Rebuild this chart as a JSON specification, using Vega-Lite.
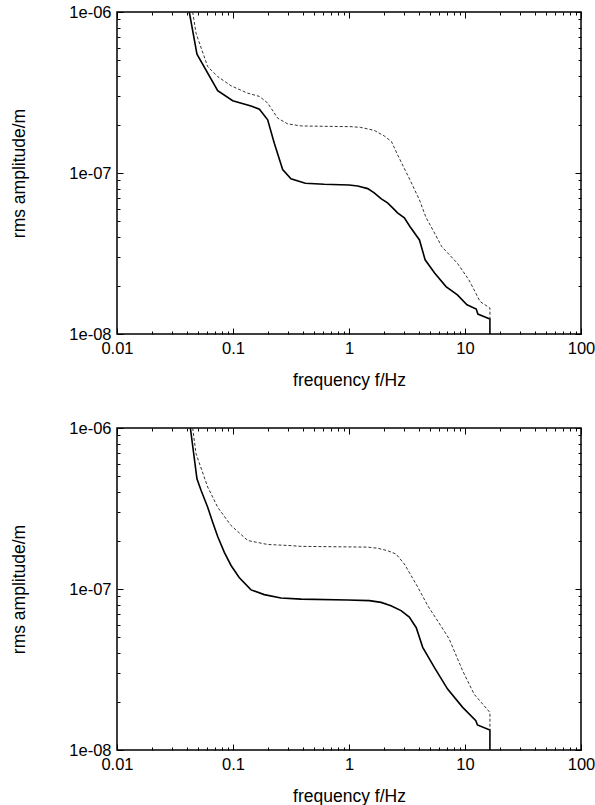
{
  "$schema": "https://vega.github.io/schema/vega-lite/v6.json",
  "background": "white",
  "autosize": {"type": "pad"},
  "padding": {"left": 9, "top": 3, "right": 10, "bottom": 5},
  "spacing": 94,
  "bounds": "flush",
  "datasets": {
    "curves": [
      {"panel": "top", "series": "solid", "i": 1, "f": 0.0420, "a": 1.0e-6},
      {"panel": "top", "series": "solid", "i": 2, "f": 0.0489, "a": 5.47e-7},
      {"panel": "top", "series": "solid", "i": 3, "f": 0.0738, "a": 3.25e-7},
      {"panel": "top", "series": "solid", "i": 4, "f": 0.0994, "a": 2.81e-7},
      {"panel": "top", "series": "solid", "i": 5, "f": 0.143, "a": 2.61e-7},
      {"panel": "top", "series": "solid", "i": 6, "f": 0.169, "a": 2.49e-7},
      {"panel": "top", "series": "solid", "i": 7, "f": 0.199, "a": 2.14e-7},
      {"panel": "top", "series": "solid", "i": 8, "f": 0.227, "a": 1.53e-7},
      {"panel": "top", "series": "solid", "i": 9, "f": 0.268, "a": 1.05e-7},
      {"panel": "top", "series": "solid", "i": 10, "f": 0.316, "a": 9.2e-8},
      {"panel": "top", "series": "solid", "i": 11, "f": 0.42, "a": 8.63e-8},
      {"panel": "top", "series": "solid", "i": 12, "f": 0.61, "a": 8.51e-8},
      {"panel": "top", "series": "solid", "i": 13, "f": 1.0, "a": 8.43e-8},
      {"panel": "top", "series": "solid", "i": 14, "f": 1.19, "a": 8.3e-8},
      {"panel": "top", "series": "solid", "i": 15, "f": 1.45, "a": 8.0e-8},
      {"panel": "top", "series": "solid", "i": 16, "f": 1.65, "a": 7.52e-8},
      {"panel": "top", "series": "solid", "i": 17, "f": 1.9, "a": 6.9e-8},
      {"panel": "top", "series": "solid", "i": 18, "f": 2.15, "a": 6.52e-8},
      {"panel": "top", "series": "solid", "i": 19, "f": 2.38, "a": 6.07e-8},
      {"panel": "top", "series": "solid", "i": 20, "f": 2.62, "a": 5.65e-8},
      {"panel": "top", "series": "solid", "i": 21, "f": 3.0, "a": 5.26e-8},
      {"panel": "top", "series": "solid", "i": 22, "f": 3.35, "a": 4.65e-8},
      {"panel": "top", "series": "solid", "i": 23, "f": 4.05, "a": 3.84e-8},
      {"panel": "top", "series": "solid", "i": 24, "f": 4.53, "a": 2.89e-8},
      {"panel": "top", "series": "solid", "i": 25, "f": 5.47, "a": 2.39e-8},
      {"panel": "top", "series": "solid", "i": 26, "f": 6.86, "a": 1.97e-8},
      {"panel": "top", "series": "solid", "i": 27, "f": 8.6, "a": 1.75e-8},
      {"panel": "top", "series": "solid", "i": 28, "f": 10.4, "a": 1.52e-8},
      {"panel": "top", "series": "solid", "i": 29, "f": 12.5, "a": 1.43e-8},
      {"panel": "top", "series": "solid", "i": 30, "f": 12.9, "a": 1.33e-8},
      {"panel": "top", "series": "solid", "i": 31, "f": 16.4, "a": 1.24e-8},
      {"panel": "top", "series": "solid", "i": 32, "f": 16.4, "a": 1.0e-8},
      {"panel": "top", "series": "dashed", "i": 1, "f": 0.0449, "a": 1.0e-6},
      {"panel": "top", "series": "dashed", "i": 2, "f": 0.048, "a": 7.38e-7},
      {"panel": "top", "series": "dashed", "i": 3, "f": 0.0605, "a": 4.58e-7},
      {"panel": "top", "series": "dashed", "i": 4, "f": 0.0738, "a": 3.97e-7},
      {"panel": "top", "series": "dashed", "i": 5, "f": 0.0962, "a": 3.48e-7},
      {"panel": "top", "series": "dashed", "i": 6, "f": 0.134, "a": 3.13e-7},
      {"panel": "top", "series": "dashed", "i": 7, "f": 0.169, "a": 2.99e-7},
      {"panel": "top", "series": "dashed", "i": 8, "f": 0.199, "a": 2.72e-7},
      {"panel": "top", "series": "dashed", "i": 9, "f": 0.243, "a": 2.19e-7},
      {"panel": "top", "series": "dashed", "i": 10, "f": 0.296, "a": 2.02e-7},
      {"panel": "top", "series": "dashed", "i": 11, "f": 0.386, "a": 1.96e-7},
      {"panel": "top", "series": "dashed", "i": 12, "f": 0.6, "a": 1.95e-7},
      {"panel": "top", "series": "dashed", "i": 13, "f": 1.04, "a": 1.94e-7},
      {"panel": "top", "series": "dashed", "i": 14, "f": 1.26, "a": 1.92e-7},
      {"panel": "top", "series": "dashed", "i": 15, "f": 1.65, "a": 1.84e-7},
      {"panel": "top", "series": "dashed", "i": 16, "f": 2.01, "a": 1.70e-7},
      {"panel": "top", "series": "dashed", "i": 17, "f": 2.32, "a": 1.57e-7},
      {"panel": "top", "series": "dashed", "i": 18, "f": 2.62, "a": 1.3e-7},
      {"panel": "top", "series": "dashed", "i": 19, "f": 3.42, "a": 8.8e-8},
      {"panel": "top", "series": "dashed", "i": 20, "f": 4.05, "a": 6.8e-8},
      {"panel": "top", "series": "dashed", "i": 21, "f": 4.61, "a": 5.3e-8},
      {"panel": "top", "series": "dashed", "i": 22, "f": 5.47, "a": 4.23e-8},
      {"panel": "top", "series": "dashed", "i": 23, "f": 6.3, "a": 3.49e-8},
      {"panel": "top", "series": "dashed", "i": 24, "f": 8.6, "a": 2.75e-8},
      {"panel": "top", "series": "dashed", "i": 25, "f": 10.8, "a": 2.17e-8},
      {"panel": "top", "series": "dashed", "i": 26, "f": 13.5, "a": 1.59e-8},
      {"panel": "top", "series": "dashed", "i": 27, "f": 16.4, "a": 1.45e-8},
      {"panel": "top", "series": "dashed", "i": 28, "f": 16.4, "a": 1.24e-8},
      {"panel": "bottom", "series": "solid", "i": 1, "f": 0.0429, "a": 1.0e-6},
      {"panel": "bottom", "series": "solid", "i": 2, "f": 0.0489, "a": 4.84e-7},
      {"panel": "bottom", "series": "solid", "i": 3, "f": 0.053, "a": 4.10e-7},
      {"panel": "bottom", "series": "solid", "i": 4, "f": 0.0605, "a": 3.22e-7},
      {"panel": "bottom", "series": "solid", "i": 5, "f": 0.0668, "a": 2.60e-7},
      {"panel": "bottom", "series": "solid", "i": 6, "f": 0.0738, "a": 2.12e-7},
      {"panel": "bottom", "series": "solid", "i": 7, "f": 0.0842, "a": 1.69e-7},
      {"panel": "bottom", "series": "solid", "i": 8, "f": 0.0962, "a": 1.40e-7},
      {"panel": "bottom", "series": "solid", "i": 9, "f": 0.113, "a": 1.18e-7},
      {"panel": "bottom", "series": "solid", "i": 10, "f": 0.143, "a": 9.87e-8},
      {"panel": "bottom", "series": "solid", "i": 11, "f": 0.186, "a": 9.23e-8},
      {"panel": "bottom", "series": "solid", "i": 12, "f": 0.259, "a": 8.8e-8},
      {"panel": "bottom", "series": "solid", "i": 13, "f": 0.386, "a": 8.65e-8},
      {"panel": "bottom", "series": "solid", "i": 14, "f": 0.975, "a": 8.55e-8},
      {"panel": "bottom", "series": "solid", "i": 15, "f": 1.5, "a": 8.47e-8},
      {"panel": "bottom", "series": "solid", "i": 16, "f": 1.89, "a": 8.26e-8},
      {"panel": "bottom", "series": "solid", "i": 17, "f": 2.3, "a": 7.88e-8},
      {"panel": "bottom", "series": "solid", "i": 18, "f": 2.81, "a": 7.34e-8},
      {"panel": "bottom", "series": "solid", "i": 19, "f": 3.31, "a": 6.7e-8},
      {"panel": "bottom", "series": "solid", "i": 20, "f": 3.8, "a": 5.75e-8},
      {"panel": "bottom", "series": "solid", "i": 21, "f": 4.32, "a": 4.34e-8},
      {"panel": "bottom", "series": "solid", "i": 22, "f": 5.44, "a": 3.26e-8},
      {"panel": "bottom", "series": "solid", "i": 23, "f": 7.08, "a": 2.39e-8},
      {"panel": "bottom", "series": "solid", "i": 24, "f": 9.55, "a": 1.84e-8},
      {"panel": "bottom", "series": "solid", "i": 25, "f": 12.4, "a": 1.52e-8},
      {"panel": "bottom", "series": "solid", "i": 26, "f": 12.8, "a": 1.43e-8},
      {"panel": "bottom", "series": "solid", "i": 27, "f": 16.4, "a": 1.33e-8},
      {"panel": "bottom", "series": "solid", "i": 28, "f": 16.4, "a": 1.0e-8},
      {"panel": "bottom", "series": "dashed", "i": 1, "f": 0.0449, "a": 1.0e-6},
      {"panel": "bottom", "series": "dashed", "i": 2, "f": 0.048, "a": 6.93e-7},
      {"panel": "bottom", "series": "dashed", "i": 3, "f": 0.0605, "a": 4.30e-7},
      {"panel": "bottom", "series": "dashed", "i": 4, "f": 0.0738, "a": 3.22e-7},
      {"panel": "bottom", "series": "dashed", "i": 5, "f": 0.0962, "a": 2.48e-7},
      {"panel": "bottom", "series": "dashed", "i": 6, "f": 0.134, "a": 2.0e-7},
      {"panel": "bottom", "series": "dashed", "i": 7, "f": 0.199, "a": 1.89e-7},
      {"panel": "bottom", "series": "dashed", "i": 8, "f": 0.316, "a": 1.86e-7},
      {"panel": "bottom", "series": "dashed", "i": 9, "f": 0.386, "a": 1.84e-7},
      {"panel": "bottom", "series": "dashed", "i": 10, "f": 1.45, "a": 1.82e-7},
      {"panel": "bottom", "series": "dashed", "i": 11, "f": 1.77, "a": 1.79e-7},
      {"panel": "bottom", "series": "dashed", "i": 12, "f": 2.15, "a": 1.73e-7},
      {"panel": "bottom", "series": "dashed", "i": 13, "f": 2.54, "a": 1.65e-7},
      {"panel": "bottom", "series": "dashed", "i": 14, "f": 3.0, "a": 1.43e-7},
      {"panel": "bottom", "series": "dashed", "i": 15, "f": 3.91, "a": 1.03e-7},
      {"panel": "bottom", "series": "dashed", "i": 16, "f": 4.76, "a": 7.9e-8},
      {"panel": "bottom", "series": "dashed", "i": 17, "f": 6.2, "a": 5.9e-8},
      {"panel": "bottom", "series": "dashed", "i": 18, "f": 7.31, "a": 4.89e-8},
      {"panel": "bottom", "series": "dashed", "i": 19, "f": 9.55, "a": 3.1e-8},
      {"panel": "bottom", "series": "dashed", "i": 20, "f": 12.0, "a": 2.22e-8},
      {"panel": "bottom", "series": "dashed", "i": 21, "f": 16.4, "a": 1.71e-8},
      {"panel": "bottom", "series": "dashed", "i": 22, "f": 16.4, "a": 1.33e-8}
    ]
  },
  "vconcat": [
    {
      "width": 464,
      "height": 322,
      "data": {"name": "curves"},
      "transform": [{"filter": "datum.panel === 'top'"}],
      "layer": [
        {
          "transform": [{"filter": "datum.series === 'solid'"}],
          "mark": {"type": "line", "color": "black", "strokeWidth": 1.6, "clip": true},
          "encoding": {
            "x": {"field": "f", "type": "quantitative", "scale": {"type": "log", "domain": [0.01, 100], "nice": false},
              "axis": {"orient": "bottom", "values": [0.01, 0.1, 1, 10, 100], "labelExpr": "format(datum.value, '~g')", "tickSize": -6, "labelPadding": 12.5, "labelFlush": false, "labelOverlap": false, "labelBound": false, "title": "frequency f/Hz", "titleX": 232, "titleY": 51, "titleBaseline": "alphabetic", "titleAlign": "center"}},
            "y": {"field": "a", "type": "quantitative", "scale": {"type": "log", "domain": [1e-8, 1e-6], "nice": false},
              "axis": {"orient": "left", "values": [1e-8, 1e-7, 1e-6], "labelExpr": "'1e-0' + round(-log(datum.value) / LN10)", "tickSize": -6, "labelPadding": 12, "labelFlush": false, "labelOverlap": false, "labelBound": false, "title": "rms amplitude/m", "titleX": -93, "titleY": 161, "titleAngle": -90, "titleBaseline": "alphabetic", "titleAlign": "center"}},
            "order": {"field": "i", "type": "quantitative"}
          }
        },
        {
          "transform": [{"filter": "datum.series === 'dashed'"}],
          "mark": {"type": "line", "color": "#333333", "strokeWidth": 1, "strokeDash": [3, 2], "clip": true},
          "encoding": {
            "x": {"field": "f", "type": "quantitative", "scale": {"type": "log", "domain": [0.01, 100], "nice": false},
              "axis": {"orient": "top", "values": [0.01, 0.1, 1, 10, 100], "labels": false, "tickSize": -6, "title": null}},
            "y": {"field": "a", "type": "quantitative", "scale": {"type": "log", "domain": [1e-8, 1e-6], "nice": false},
              "axis": {"orient": "right", "values": [1e-8, 1e-7, 1e-6], "labels": false, "tickSize": -6, "title": null}},
            "order": {"field": "i", "type": "quantitative"}
          }
        },
        {
          "transform": [{"filter": "datum.series === 'solid'"}],
          "mark": {"type": "line", "strokeOpacity": 0, "clip": true},
          "encoding": {
            "x": {"field": "f", "type": "quantitative", "scale": {"type": "log", "domain": [0.01, 100], "nice": false},
              "axis": {"orient": "bottom", "values": [0.02, 0.03, 0.04, 0.05, 0.06, 0.07, 0.08, 0.09, 0.2, 0.3, 0.4, 0.5, 0.6, 0.7, 0.8, 0.9, 2, 3, 4, 5, 6, 7, 8, 9, 20, 30, 40, 50, 60, 70, 80, 90], "labels": false, "tickSize": -3, "title": null}},
            "y": {"field": "a", "type": "quantitative", "scale": {"type": "log", "domain": [1e-8, 1e-6], "nice": false},
              "axis": {"orient": "left", "values": [2e-8, 3e-8, 4e-8, 5e-8, 6e-8, 7e-8, 8e-8, 9e-8, 2e-7, 3e-7, 4e-7, 5e-7, 6e-7, 7e-7, 8e-7, 9e-7], "labels": false, "tickSize": -3, "title": null}},
            "order": {"field": "i", "type": "quantitative"}
          }
        },
        {
          "transform": [{"filter": "datum.series === 'solid'"}],
          "mark": {"type": "line", "strokeOpacity": 0, "clip": true},
          "encoding": {
            "x": {"field": "f", "type": "quantitative", "scale": {"type": "log", "domain": [0.01, 100], "nice": false},
              "axis": {"orient": "top", "values": [0.02, 0.03, 0.04, 0.05, 0.06, 0.07, 0.08, 0.09, 0.2, 0.3, 0.4, 0.5, 0.6, 0.7, 0.8, 0.9, 2, 3, 4, 5, 6, 7, 8, 9, 20, 30, 40, 50, 60, 70, 80, 90], "labels": false, "tickSize": -3, "title": null}},
            "y": {"field": "a", "type": "quantitative", "scale": {"type": "log", "domain": [1e-8, 1e-6], "nice": false},
              "axis": {"orient": "right", "values": [2e-8, 3e-8, 4e-8, 5e-8, 6e-8, 7e-8, 8e-8, 9e-8, 2e-7, 3e-7, 4e-7, 5e-7, 6e-7, 7e-7, 8e-7, 9e-7], "labels": false, "tickSize": -3, "title": null}},
            "order": {"field": "i", "type": "quantitative"}
          }
        }
      ],
      "resolve": {"axis": {"x": "independent", "y": "independent"}}
    },
    {
      "width": 464,
      "height": 322,
      "data": {"name": "curves"},
      "transform": [{"filter": "datum.panel === 'bottom'"}],
      "layer": [
        {
          "transform": [{"filter": "datum.series === 'solid'"}],
          "mark": {"type": "line", "color": "black", "strokeWidth": 1.6, "clip": true},
          "encoding": {
            "x": {"field": "f", "type": "quantitative", "scale": {"type": "log", "domain": [0.01, 100], "nice": false},
              "axis": {"orient": "bottom", "values": [0.01, 0.1, 1, 10, 100], "labelExpr": "format(datum.value, '~g')", "tickSize": -6, "labelPadding": 12.5, "labelFlush": false, "labelOverlap": false, "labelBound": false, "title": "frequency f/Hz", "titleX": 232, "titleY": 51, "titleBaseline": "alphabetic", "titleAlign": "center"}},
            "y": {"field": "a", "type": "quantitative", "scale": {"type": "log", "domain": [1e-8, 1e-6], "nice": false},
              "axis": {"orient": "left", "values": [1e-8, 1e-7, 1e-6], "labelExpr": "'1e-0' + round(-log(datum.value) / LN10)", "tickSize": -6, "labelPadding": 12, "labelFlush": false, "labelOverlap": false, "labelBound": false, "title": "rms amplitude/m", "titleX": -93, "titleY": 161, "titleAngle": -90, "titleBaseline": "alphabetic", "titleAlign": "center"}},
            "order": {"field": "i", "type": "quantitative"}
          }
        },
        {
          "transform": [{"filter": "datum.series === 'dashed'"}],
          "mark": {"type": "line", "color": "#333333", "strokeWidth": 1, "strokeDash": [3, 2], "clip": true},
          "encoding": {
            "x": {"field": "f", "type": "quantitative", "scale": {"type": "log", "domain": [0.01, 100], "nice": false},
              "axis": {"orient": "top", "values": [0.01, 0.1, 1, 10, 100], "labels": false, "tickSize": -6, "title": null}},
            "y": {"field": "a", "type": "quantitative", "scale": {"type": "log", "domain": [1e-8, 1e-6], "nice": false},
              "axis": {"orient": "right", "values": [1e-8, 1e-7, 1e-6], "labels": false, "tickSize": -6, "title": null}},
            "order": {"field": "i", "type": "quantitative"}
          }
        },
        {
          "transform": [{"filter": "datum.series === 'solid'"}],
          "mark": {"type": "line", "strokeOpacity": 0, "clip": true},
          "encoding": {
            "x": {"field": "f", "type": "quantitative", "scale": {"type": "log", "domain": [0.01, 100], "nice": false},
              "axis": {"orient": "bottom", "values": [0.02, 0.03, 0.04, 0.05, 0.06, 0.07, 0.08, 0.09, 0.2, 0.3, 0.4, 0.5, 0.6, 0.7, 0.8, 0.9, 2, 3, 4, 5, 6, 7, 8, 9, 20, 30, 40, 50, 60, 70, 80, 90], "labels": false, "tickSize": -3, "title": null}},
            "y": {"field": "a", "type": "quantitative", "scale": {"type": "log", "domain": [1e-8, 1e-6], "nice": false},
              "axis": {"orient": "left", "values": [2e-8, 3e-8, 4e-8, 5e-8, 6e-8, 7e-8, 8e-8, 9e-8, 2e-7, 3e-7, 4e-7, 5e-7, 6e-7, 7e-7, 8e-7, 9e-7], "labels": false, "tickSize": -3, "title": null}},
            "order": {"field": "i", "type": "quantitative"}
          }
        },
        {
          "transform": [{"filter": "datum.series === 'solid'"}],
          "mark": {"type": "line", "strokeOpacity": 0, "clip": true},
          "encoding": {
            "x": {"field": "f", "type": "quantitative", "scale": {"type": "log", "domain": [0.01, 100], "nice": false},
              "axis": {"orient": "top", "values": [0.02, 0.03, 0.04, 0.05, 0.06, 0.07, 0.08, 0.09, 0.2, 0.3, 0.4, 0.5, 0.6, 0.7, 0.8, 0.9, 2, 3, 4, 5, 6, 7, 8, 9, 20, 30, 40, 50, 60, 70, 80, 90], "labels": false, "tickSize": -3, "title": null}},
            "y": {"field": "a", "type": "quantitative", "scale": {"type": "log", "domain": [1e-8, 1e-6], "nice": false},
              "axis": {"orient": "right", "values": [2e-8, 3e-8, 4e-8, 5e-8, 6e-8, 7e-8, 8e-8, 9e-8, 2e-7, 3e-7, 4e-7, 5e-7, 6e-7, 7e-7, 8e-7, 9e-7], "labels": false, "tickSize": -3, "title": null}},
            "order": {"field": "i", "type": "quantitative"}
          }
        }
      ],
      "resolve": {"axis": {"x": "independent", "y": "independent"}}
    }
  ],
  "config": {
    "font": "Liberation Sans",
    "view": {"stroke": "black", "strokeWidth": 1.5},
    "axis": {"grid": false, "domain": false, "tickColor": "black", "tickWidth": 1, "labelFont": "Liberation Sans", "labelFontSize": 16.5, "labelColor": "black", "titleFont": "Liberation Sans", "titleFontSize": 17.5, "titleFontWeight": "normal", "titleColor": "black"}
  }
}
